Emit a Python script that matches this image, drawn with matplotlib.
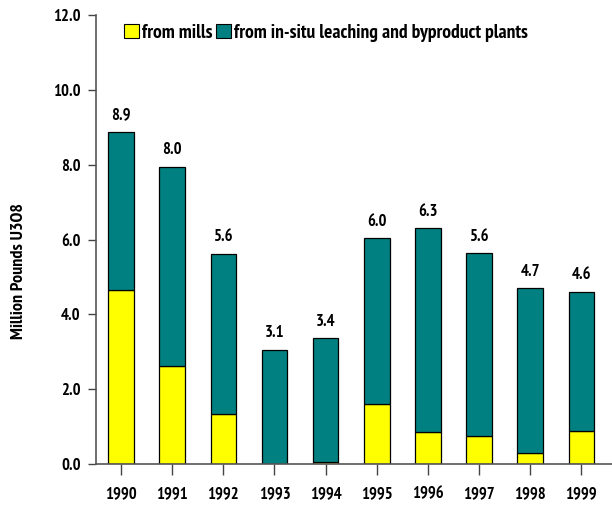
import matplotlib
matplotlib.use("Agg")
import matplotlib.pyplot as plt
from matplotlib.patches import Patch
import numpy as np

plt.rcParams['font.family'] = ['PT Sans Narrow', 'DejaVu Sans']
plt.rcParams['font.weight'] = 'bold'

# 연도별 우라늄 생산량 (Million Pounds U3O8)
years = ['1990', '1991', '1992', '1993', '1994', '1995', '1996', '1997', '1998', '1999']
mills = [4.65, 2.62, 1.33, 0.0, 0.05, 1.6, 0.85, 0.76, 0.3, 0.87]
insitu = [4.23, 5.33, 4.29, 3.06, 3.31, 4.44, 5.46, 4.88, 4.40, 3.74]
total_labels = ['8.9', '8.0', '5.6', '3.1', '3.4', '6.0', '6.3', '5.6', '4.7', '4.6']

yellow = '#FFFF00'
teal = '#008080'

fig = plt.figure(figsize=(6.12, 5.05), dpi=100)
ax = fig.add_axes([96/612, 41/505, 516/612, 449/505])

x = np.arange(len(years))
w = 0.5
ax.bar(x, mills, w, color=yellow, edgecolor='black', linewidth=0.9)
ax.bar(x, insitu, w, bottom=mills, color=teal, edgecolor='black', linewidth=0.9)

# 막대 위 합계 표시
totals = np.array(mills) + np.array(insitu)
for xi, t, lab in zip(x, totals, total_labels):
    ax.text(xi, t + 0.22, lab, ha='center', va='bottom', fontsize=12, fontweight='bold')

ax.set_xlim(-0.49, 9.6)
ax.set_ylim(0, 12)
yt = np.arange(0, 12.1, 2)
ax.set_yticks(yt)
ax.set_yticklabels(['%.1f' % v for v in yt], fontsize=12, fontweight='bold')
ax.set_xticks(x)
ax.set_xticklabels(years, fontsize=12, fontweight='bold')
ax.tick_params(axis='y', direction='out', length=6, width=1, colors='#444444', labelcolor='black', pad=5)
ax.tick_params(axis='x', direction='out', length=8, width=1, colors='#444444', labelcolor='black', pad=8)

for s in ['top', 'right']:
    ax.spines[s].set_visible(False)
for s in ['left', 'bottom']:
    ax.spines[s].set_color('#555555')
    ax.spines[s].set_linewidth(1.2)

ax.set_ylabel('Million Pounds U3O8', fontsize=13, fontweight='bold')
ax.yaxis.set_label_coords(-0.134, 0.43)

handles = [Patch(facecolor=yellow, edgecolor='black', linewidth=0.8),
           Patch(facecolor=teal, edgecolor='black', linewidth=0.8)]
ax.legend(handles, ['from mills', 'from in-situ leaching and byproduct plants'],
          loc='upper left', bbox_to_anchor=(0.025, 1.015), ncol=2, frameon=False,
          prop={'family': ['PT Sans Narrow', 'DejaVu Sans'], 'weight': 'bold', 'size': 14},
          handlelength=0.75, handleheight=0.75, handletextpad=0.15,
          columnspacing=0.2, borderpad=0.3)

fig.savefig('out.png', dpi=100)
